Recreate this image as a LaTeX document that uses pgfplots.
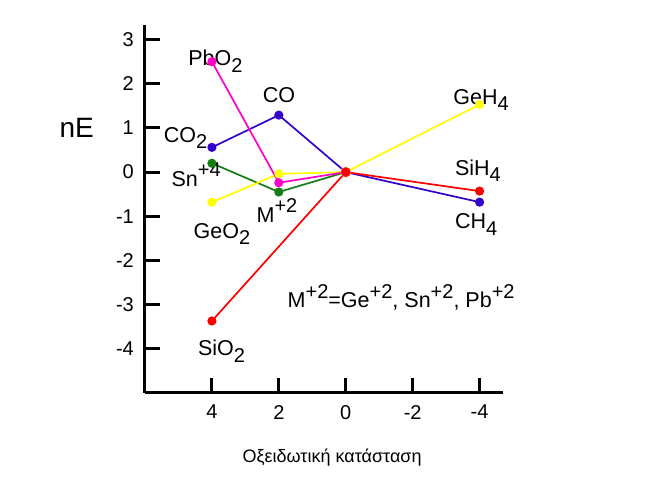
\documentclass[border=0pt]{standalone}
\usepackage{pgfplots}
\pgfplotsset{compat=1.18}
\usepackage{fontspec}
\setmainfont{Liberation Sans}
\definecolor{cblue}{RGB}{51,0,204}
\definecolor{cmag}{RGB}{255,0,204}
\definecolor{cgreen}{RGB}{20,125,20}
\definecolor{cyel}{RGB}{255,255,0}
\definecolor{cred}{RGB}{255,0,0}
\definecolor{corange}{RGB}{255,175,90}
\newcommand\sub[1]{\raisebox{-6.5pt}{\fontsize{20}{21}\selectfont #1}}
\newcommand\sups[1]{\raisebox{9.5pt}{\fontsize{20}{21}\selectfont #1}}
\begin{document}
\begin{tikzpicture}
\path[use as bounding box] (0,0) rectangle (648pt,487pt);
\begin{axis}[
  at={(145pt,94pt)}, anchor=south west,
  scale only axis, width=358pt, height=368pt,
  xmin=-4.7, xmax=6, ymin=-5, ymax=3.33,
  x dir=reverse,
  axis x line=bottom, axis y line=left,
  axis line style={-, line width=3pt, black},
  xtick={4,2,0,-2,-4}, xticklabels={4,2,0,-2,-4},
  ytick={-4,-3,-2,-1,0,1,2,3}, yticklabels={-4,-3,-2,-1,0,1,2,3},
  tick align=inside, major tick length=15pt,
  tick style={line width=3pt, black},
  tick label style={font=\fontsize{20}{22}\selectfont},
  xticklabel style={yshift=-12pt},
  yticklabel style={xshift=-11pt},
  clip=false,
  every axis plot/.append style={line width=1.7pt, mark=*, mark size=3.7pt},
  nodes={font=\fontsize{21.5}{23}\selectfont, inner sep=0pt},
]
\addplot[only marks, color=corange, mark size=4.5pt] coordinates {(0,0)};
\addplot[color=cblue] coordinates {(4,0.56) (2,1.29) (0,0) (-4,-0.68)};
\addplot[color=cgreen] coordinates {(4,0.2) (2,-0.45) (0,0)};
\addplot[color=cyel] coordinates {(4,-0.68) (2,-0.04) (0,0) (-4,1.53)};
\addplot[color=cmag] coordinates {(4,2.5) (2,-0.24) (0,0)};
\addplot[color=cred] coordinates {(4,-3.37) (0,0) (-4,-0.43)};

\node[anchor=base west] at (axis cs:4.71,2.41) {PbO\sub{2}};
\node[anchor=base west] at (axis cs:2.48,1.58) {CO};
\node[anchor=base west] at (axis cs:5.44,0.68) {CO\sub{2}};
\node[anchor=base west] at (axis cs:5.21,-0.32) {Sn\sups{+4}};
\node[anchor=base west] at (axis cs:2.67,-1.13) {M\sups{+2}};
\node[anchor=base west] at (axis cs:4.55,-1.50) {GeO\sub{2}};
\node[anchor=base west] at (axis cs:4.42,-4.16) {SiO\sub{2}};
\node[anchor=base west] at (axis cs:-3.21,1.54) {GeH\sub{4}};
\node[anchor=base west] at (axis cs:-3.26,-0.07) {SiH\sub{4}};
\node[anchor=base west] at (axis cs:-3.26,-1.28) {CH\sub{4}};
\node[anchor=base west] at (axis cs:1.74,-3.07) {M\sups{+2}=Ge\sups{+2}, Sn\sups{+2}, Pb\sups{+2}};
\node[anchor=base west, font=\fontsize{28}{30}\selectfont] at (axis cs:8.56,0.78) {nE};
\node[anchor=base, font=\fontsize{18}{20}\selectfont] at (axis cs:0.41,-6.58) {Οξειδωτική κατάσταση};
\end{axis}
\end{tikzpicture}
\end{document}
